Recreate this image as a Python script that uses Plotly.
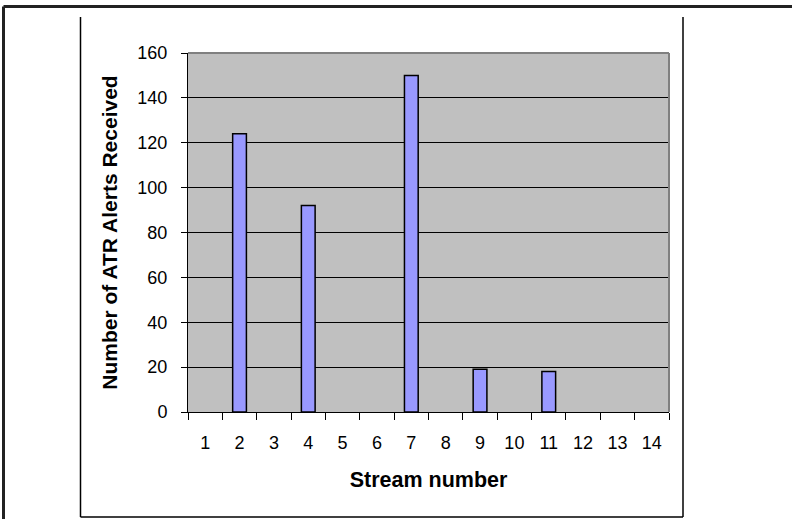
import plotly.graph_objects as go

streams = [str(i) for i in range(1, 15)]
alerts = [0, 124, 0, 92, 0, 0, 150, 0, 19, 0, 18, 0, 0, 0]
y_ticks = [0, 20, 40, 60, 80, 100, 120, 140, 160]

# plot-area pixel geometry (for decorative frame lines)
L, R, T, B = 188, 669, 53, 412
W, H = 792, 519
def px(x):
    return (x - L) / (R - L)
def py(y):
    return (B - y) / (B - T)

outline_widths = [1.5 if v > 0 else 0 for v in alerts]

fig = go.Figure(go.Bar(
    x=streams, y=alerts,
    marker=dict(color="#9999FF", line=dict(color="black", width=outline_widths)),
    width=0.4,
))

font = "Liberation Sans, Arial, sans-serif"
fig.update_layout(
    width=W, height=H,
    margin=dict(l=L, r=W - R, t=T, b=H - B),
    paper_bgcolor="white",
    plot_bgcolor="#C0C0C0",
    showlegend=False,
    font=dict(family=font, size=18, color="black"),
    xaxis=dict(
        type="category",
        tickson="boundaries",
        ticks="outside", ticklen=7, tickcolor="black", tickwidth=1,
        showline=True, linecolor="black", linewidth=1,
        showgrid=False, zeroline=False,
        ticklabelstandoff=14,
        tickfont=dict(size=18),
        title=dict(text="<b>Stream number</b>", font=dict(size=21.5), standoff=20),
    ),
    yaxis=dict(
        range=[0, 160],
        tickvals=y_ticks,
        ticks="outside", ticklen=6, tickcolor="black", tickwidth=1,
        showline=True, linecolor="black", linewidth=1,
        showgrid=True, gridcolor="black", gridwidth=1,
        zeroline=False,
        ticklabelstandoff=10,
        tickfont=dict(size=18),
        title=dict(text="<b>Number of ATR Alerts Received</b>", font=dict(size=21), standoff=14),
    ),
)

# gray plot-area border (top and right)
fig.add_shape(type="line", xref="paper", yref="paper", x0=0, x1=1, y0=1, y1=1,
              line=dict(color="#808080", width=2), layer="above")
fig.add_shape(type="line", xref="paper", yref="paper", x0=1, x1=1, y0=0, y1=1,
              line=dict(color="#808080", width=2), layer="above")

# inner chart frame (left, right, bottom)
fig.add_shape(type="line", xref="paper", yref="paper", x0=px(80.5), x1=px(80.5), y0=py(17), y1=py(517),
              line=dict(color="black", width=1.5))
fig.add_shape(type="line", xref="paper", yref="paper", x0=px(683), x1=px(683), y0=py(17), y1=py(517),
              line=dict(color="black", width=1.5))
fig.add_shape(type="line", xref="paper", yref="paper", x0=px(80.5), x1=px(683), y0=py(517), y1=py(517),
              line=dict(color="black", width=1.5))

# outer page frame (top and left)
fig.add_shape(type="line", xref="paper", yref="paper", x0=px(3.5), x1=px(800), y0=py(6.5), y1=py(6.5),
              line=dict(color="#222222", width=3))
fig.add_shape(type="line", xref="paper", yref="paper", x0=px(3.5), x1=px(3.5), y0=py(6.5), y1=py(530),
              line=dict(color="#222222", width=3))

fig.write_html("out.html", config={"displayModeBar": False},
               post_script="document.body.style.margin='0';document.body.style.overflow='hidden';")
